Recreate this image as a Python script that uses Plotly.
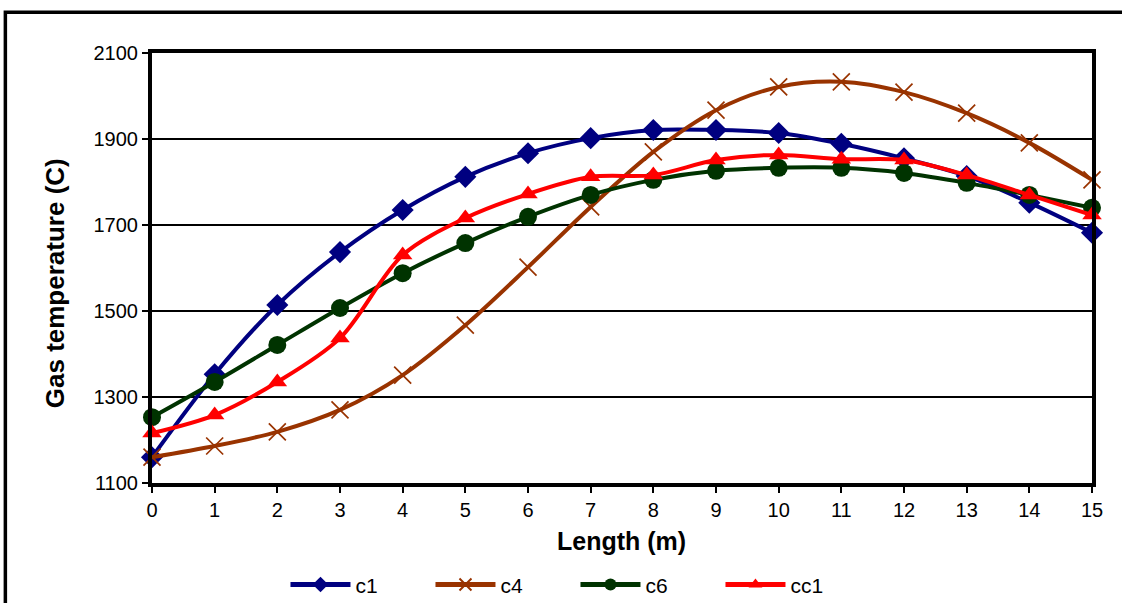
import plotly.graph_objects as go

length_m = list(range(16))
c1 = [1160, 1353, 1514, 1637, 1735, 1812, 1867, 1902, 1921, 1921, 1914, 1889, 1855, 1814, 1752, 1682]
c4 = [1160, 1186, 1219, 1270, 1351, 1467, 1602, 1742, 1870, 1967, 2021, 2033, 2009, 1960, 1891, 1805]
c6 = [1253, 1335, 1421, 1507, 1588, 1658, 1719, 1770, 1805, 1826, 1833, 1833, 1821, 1798, 1770, 1740]
cc1 = [1216, 1258, 1335, 1437, 1630, 1716, 1772, 1812, 1816, 1851, 1863, 1853, 1851, 1816, 1770, 1723]

y_ticks = [1100, 1300, 1500, 1700, 1900, 2100]

series = [
    ("c1", c1, "#000080", dict(symbol="diamond", size=17, color="#000080")),
    ("c4", c4, "#993300", dict(symbol="x-thin", size=17, color="#993300", line=dict(width=1.7, color="#993300"))),
    ("c6", c6, "#003300", dict(symbol="circle", size=18, color="#003300")),
    ("cc1", cc1, "#FF0000", dict(symbol="triangle-up", size=17, color="#FF0000")),
]

fig = go.Figure()
for name, vals, col, mk in series:
    fig.add_trace(go.Scatter(
        x=length_m, y=vals, name=name, mode="lines+markers",
        line=dict(color=col, width=4, shape="spline", smoothing=0.9),
        marker=mk, cliponaxis=False,
    ))

font_family = "Liberation Sans, Arial, sans-serif"
# figure is taller than the window (bottom part is cut off, like the reference frame)
fig.update_layout(
    width=1122, height=650,
    margin=dict(l=152, r=30, t=53, b=167),
    paper_bgcolor="white", plot_bgcolor="white",
    font=dict(family=font_family, size=20, color="black"),
    showlegend=True,
    legend=dict(orientation="h", x=0.142, xanchor="left", y=-0.237, yanchor="middle",
                font=dict(size=21), itemwidth=60, itemsizing="constant",
                entrywidth=70, entrywidthmode="pixels", tracegroupgap=0),
    xaxis=dict(
        range=[0, 15], tickmode="array", tickvals=length_m,
        showgrid=False, zeroline=False,
        showline=True, linecolor="black", linewidth=4, mirror=True,
        ticks="outside", ticklen=6, tickwidth=2, tickcolor="black",
        tickfont=dict(size=20),
    ),
    yaxis=dict(
        range=[1100, 2100], tickmode="array", tickvals=y_ticks,
        showgrid=True, gridcolor="black", gridwidth=2, zeroline=False,
        showline=True, linecolor="black", linewidth=4, mirror=True,
        ticks="outside", ticklen=6, tickwidth=2, tickcolor="black",
        tickfont=dict(size=20),
    ),
    annotations=[
        dict(text="<b>Length (m)</b>", xref="paper", yref="paper", x=0.499, y=-0.135,
             xanchor="center", yanchor="middle", showarrow=False, font=dict(size=25)),
        dict(text="<b>Gas temperature (C)</b>", xref="paper", yref="paper", x=-0.103, y=0.465,
             xanchor="center", yanchor="middle", textangle=-90, showarrow=False,
             font=dict(size=26)),
    ],
    shapes=[dict(type="rect", xref="paper", yref="paper",
                 x0=-0.156, x1=1.04, y0=-0.35, y1=1.095,
                 line=dict(color="black", width=3.5), layer="below")],
)

fig.write_html(
    "out.html",
    config={"displayModeBar": False},
    post_script="document.body.style.margin='0';document.body.style.padding='0';"
                "document.body.style.overflow='hidden';"
                "document.documentElement.style.overflow='hidden';",
)
